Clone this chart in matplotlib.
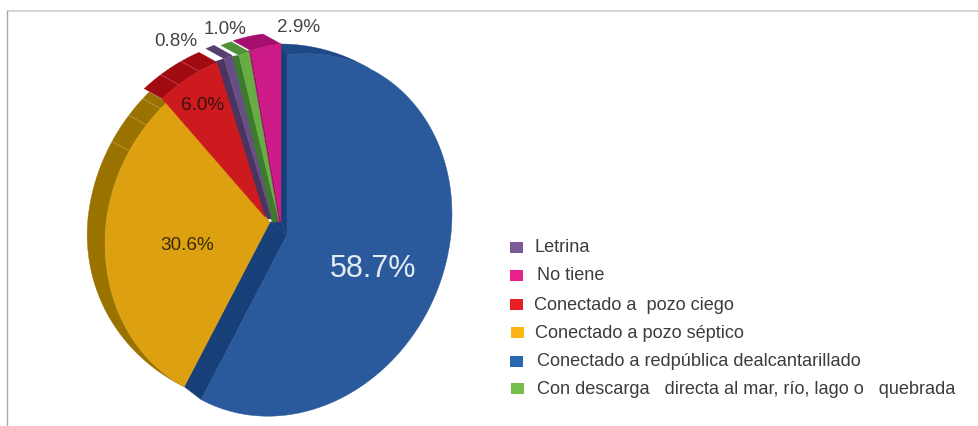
import numpy as np
import matplotlib
matplotlib.use("Agg")
import matplotlib.pyplot as plt
from matplotlib.patches import Polygon, Rectangle

plt.rcParams['font.family'] = ['Liberation Sans', 'DejaVu Sans']

# Data (clockwise from 12 o'clock)
slice_names = ["Conectado a red", "Conectado a pozo séptico", "Conectado a pozo ciego",
               "Letrina", "Con descarga", "No tiene"]
slice_shares = [58.7, 30.6, 6.0, 0.8, 1.0, 2.9]

legend_labels = ["Letrina", "No tiene", "Conectado a  pozo ciego", "Conectado a pozo séptico",
                 "Conectado a redpública dealcantarillado",
                 "Con descarga   directa al mar, río, lago o   quebrada"]
legend_colors = ["#7B5A96", "#E6208C", "#E81E27", "#FDB515", "#2B66B0", "#76BE4B"]

# Style per slice, same order as the shares
front_cols = ["#2A5A9C", "#DDA011", "#CC1A1F", "#674F85", "#67AD43", "#CC1A86"]
side_cols = ["#173F78", "#9A7200", "#A00A10", "#4A3460", "#3E7A2D", "#A50F6E"]
cap_cols = ["#1D4A86", "#9A7200", "#A00A10", "#57406F", "#4F9038", "#A50F6E"]
centers = [(287, 235), (270, 222), (265, 217), (272, 219), (279, 222), (281, 222)]
up_r = [180, 170, 168, 174, 177, 178]
cap_off = (-18, -10)

RX, SKEW, DOWN_R = 165, -21, 180

fig = plt.figure(figsize=(9.79, 4.26), dpi=100)
ax = fig.add_axes([0, 0, 1, 1])
ax.set_xlim(0, 979)
ax.set_ylim(426, 0)
ax.axis("off")

ax.plot([7, 979], [10.5, 10.5], color="#D2D2D2", lw=1.3, solid_capstyle="butt")
ax.plot([7.5, 7.5], [10, 426], color="#AAAAAA", lw=1.0, solid_capstyle="butt")


def arc(i, t):
    t = np.radians(t)
    cx, cy = centers[i]
    c = np.cos(t)
    r = np.where(c > 0, up_r[i], DOWN_R)
    return np.c_[cx + RX * np.sin(t), cy + SKEW * np.sin(t) - r * c]


edges = np.r_[0, np.cumsum(slice_shares)] * 3.6
span = [(edges[i], edges[i + 1]) for i in range(len(slice_shares))]
N = 120


def poly(pts, col, z):
    ax.add_patch(Polygon(pts, closed=True, fc=col, ec=col, lw=0.3, zorder=z))


def facet(i, t, off, z):
    p = arc(i, np.array([t]))[0]
    ax.plot([p[0], p[0] + off[0]], [p[1], p[1] + off[1]], color="#FFFFFF", alpha=0.28, lw=0.6, zorder=z)


# Conectado a red: side walls and the narrowing rim at the back
a0, a1 = span[0]
t = np.linspace(0, 30, 40)
f = arc(0, t)
k = (1 - t / 30)[:, None]
poly(np.r_[f, (f + k * np.array([-7, -11]))[::-1]], cap_cols[0], 1)
c0, c1 = np.array(centers[0]), np.array(centers[1])
top = arc(0, np.array([0.0]))[0]
poly([top + (-7, -11), top, c0, (281, 222)], side_cols[0], 2)
poly([c0, (281, 222), c1], side_cols[0], 2)
poly([c0, arc(0, np.array([a1]))[0], arc(1, np.array([a1]))[0], c1], side_cols[0], 2)

# Conectado a pozo séptico: rim widens from the lower end
a0, a1 = span[1]
t = np.linspace(a0, a1, N)
f = arc(1, t)
s = np.clip((t - a0) / 65, 0, 1)
s = np.sin(s * np.pi / 2)
off = np.c_[cap_off[0] * s, cap_off[1] * (t - a0) / (a1 - a0)]
poly(np.r_[f, (f + off)[::-1]], cap_cols[1], 3)
for tt in (a1 - 3, a1 - 10, a1 - 20):
    facet(1, tt, cap_off, 4)

# Remaining slices: rim, left wall
wall_off = {2: (0, 0), 3: (-9, 3), 4: (-7, 1), 5: (-3, 0)}
for i in (2, 3, 4, 5):
    a0, a1 = span[i]
    t = np.linspace(a0, a1, 30)
    f = arc(i, t)
    poly(np.r_[f, (f + cap_off)[::-1]], cap_cols[i], 5 + i)
    p = f[0]
    w = wall_off[i]
    poly([centers[i], p, p + w, (centers[i][0] + w[0], centers[i][1])], side_cols[i], 5 + i)
for tt in (span[2][0] + 7, span[2][0] + 15):
    facet(2, tt, cap_off, 8)

# Front faces
for i in (1, 2, 3, 4, 5, 0):
    a0, a1 = span[i]
    pts = np.r_[[centers[i]], arc(i, np.linspace(a0, a1, N))]
    poly(pts, front_cols[i], 20 + i if i else 30)

# Value labels
label_pos = [(373.5, 269, 22, "#E4EAF4"), (187.5, 245, 13.6, "#3A2A08"), (202.5, 105, 13.6, "#3A1010"),
             (176, 42, 13.6, "#444444"), (225, 29, 13.6, "#444444"), (299, 28, 13.6, "#444444")]
for share, (x, y, fs, col) in zip(slice_shares, label_pos):
    ax.text(x, y, f"{share:.1f}%", ha="center", va="center", fontsize=fs, color=col, zorder=40)

# Legend
sq_x = [510, 510, 510, 511, 510, 511]
sq_y = [247.5, 275.5, 304.5, 332.5, 361, 388]
tx_x = [534.5, 537.5, 534.5, 535.5, 537, 537]
tx_y = [247.5, 275.5, 305.5, 333.5, 361.5, 389.5]
for lab, col, sx, sy, tx, ty in zip(legend_labels, legend_colors, sq_x, sq_y, tx_x, tx_y):
    ax.add_patch(Rectangle((sx, sy - 5.5), 13, 11, fc=col, ec="none"))
    ax.text(tx, ty, lab, ha="left", va="center", fontsize=13.1, color="#3C3C3C")

fig.savefig("out.png", dpi=100)
